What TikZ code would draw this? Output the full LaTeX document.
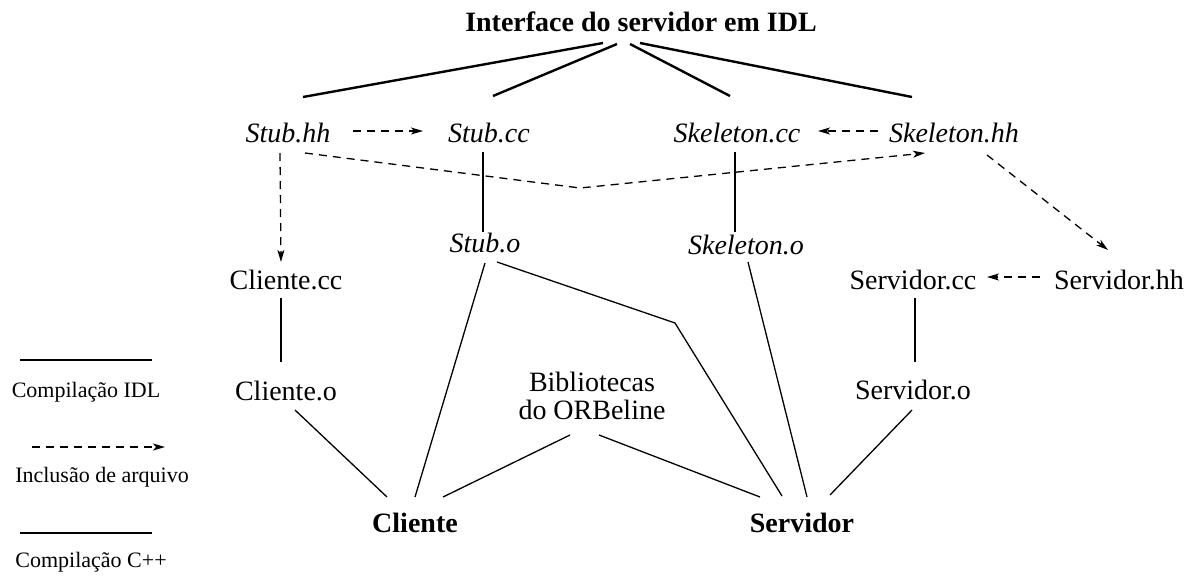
\documentclass[tikz,border=0pt]{standalone}
\usepackage{fontspec}
\setmainfont{Liberation Serif}
\usetikzlibrary{arrows.meta,calc}
\begin{document}
\begin{tikzpicture}[x=1pt,y=-1pt,
  lbl/.style={inner sep=0pt,font=\fontsize{28}{30}\selectfont},
  ilbl/.style={inner sep=0pt,font=\fontsize{28}{30}\selectfont\itshape},
  blbl/.style={inner sep=0pt,font=\fontsize{28}{30}\selectfont\bfseries},
  leg/.style={inner sep=0pt,font=\fontsize{22}{24}\selectfont},
  idl/.style={line width=2.4pt},
  cpp/.style={line width=1.3pt},
  inc/.style={line width=1.3pt,dash pattern=on 8pt off 6pt,-{Stealth[length=12pt,width=7pt,inset=3pt]}},
]
\path[use as bounding box] (0,0) rectangle (1190,576);
% nodes
\node[blbl] (title) at (641,22) {Interface do servidor em IDL};
\node[ilbl] (stubhh) at (288,133) {Stub.hh};
\node[ilbl] (stubcc) at (489,133) {Stub.cc};
\node[ilbl] (skelcc) at (737,133) {Skeleton.cc};
\node[ilbl] (skelhh) at (954,133) {Skeleton.hh};
\node[ilbl] (stubo) at (485,243) {Stub.o};
\node[ilbl] (skelo) at (746,245) {Skeleton.o};
\node[lbl] (clientecc) at (286,280) {Cliente.cc};
\node[lbl] (clienteo) at (286,391) {Cliente.o};
\node[lbl] (servcc) at (913,280) {Servidor.cc};
\node[lbl] (servhh) at (1119,280) {Servidor.hh};
\node[lbl] (servo) at (913,390) {Servidor.o};
\node[lbl,align=center] (bib) at (592,396) {Bibliotecas\\[-2pt]do ORBeline};
\node[blbl] (cliente) at (415,523) {Cliente};
\node[blbl] (servidor) at (802,523) {Servidor};
% legend
\node[leg] (legidl) at (86,392) {Compilação IDL};
\node[leg] (leginc) at (102,477) {Inclusão de arquivo};
\node[leg] (legcpp) at (91,562) {Compilação C++};
\coordinate (la1) at (20,360); \coordinate (la2) at (152,360);
\coordinate (lb1) at (32,447); \coordinate (lb2) at (165,447);
\coordinate (lc1) at (20,533); \coordinate (lc2) at (152,533);
\draw[idl] (la1) -- (la2);
\draw[inc] (lb1) -- (lb2);
\draw[cpp] (lc1) -- (lc2);
% IDL compilation
\draw[idl] ($(title)+(-38,21)$) -- ($(stubhh)+(15,-36)$);
\draw[idl] ($(title)+(-24,22)$) -- ($(stubcc)+(4,-37)$);
\draw[idl] ($(title)+(-11,22)$) -- ($(skelcc)+(-7,-37)$);
\draw[idl] ($(title)+(-1,21)$) -- ($(skelhh)+(-42,-36)$);
% inclusions
\draw[inc] ($(stubhh)+(65,-2)$) -- ($(stubcc)+(-66,-2)$);
\draw[inc] ($(skelhh)+(-76,-2)$) -- ($(skelcc)+(81,-2)$);
\draw[inc] ($(stubhh)+(-8,20)$) -- ($(clientecc)+(-5,-18)$);
\coordinate (dip) at (580,188);
\draw[inc] ($(stubhh)+(17,20)$) -- (dip) -- ($(skelhh)+(-29,20)$);
\draw[inc] ($(skelhh)+(33,22)$) -- ($(servhh)+(-11,-30)$);
\draw[inc] ($(servhh)+(-79,-3)$) -- ($(servcc)+(74,-3)$);
% C++ compilation
\draw[cpp] ($(stubcc)+(-6,19)$) -- ($(stubo)+(-2,-11)$);
\draw[cpp] ($(skelcc)+(-2,19)$) -- ($(skelo)+(-11,-13)$);
\draw[cpp] ($(clientecc)+(-5,18)$) -- ($(clienteo)+(-5,-29)$);
\draw[cpp] ($(servcc)+(2,18)$) -- ($(servo)+(2,-28)$);
\draw[cpp] ($(clienteo)+(9,19)$) -- ($(cliente)+(-28,-26)$);
\draw[cpp] ($(stubo)+(0,20)$) -- ($(cliente)+(0,-26)$);
\draw[cpp] ($(bib)+(-22,39)$) -- ($(cliente)+(28,-26)$);
\draw[cpp] ($(bib)+(7,39)$) -- ($(servidor)+(-42,-26)$);
\coordinate (bend) at (675,323);
\draw[cpp] ($(stubo)+(12,19)$) -- (bend) -- ($(servidor)+(-20,-27)$);
\draw[cpp] ($(skelo)+(2,17)$) -- ($(servidor)+(5,-26)$);
\draw[cpp] ($(servo)+(-1,20)$) -- ($(servidor)+(28,-28)$);
\end{tikzpicture}
\end{document}
